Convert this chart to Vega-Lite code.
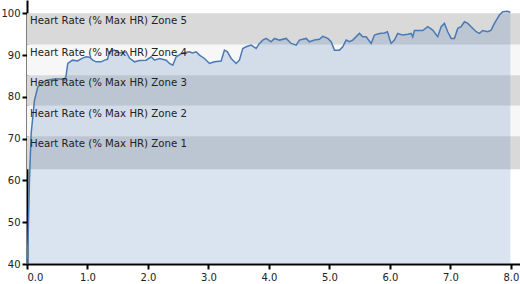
{
  "$schema": "https://vega.github.io/schema/vega-lite/v6.json",
  "width": 493,
  "height": 264,
  "autosize": {"type": "none"},
  "padding": {"left": 27, "top": 0, "right": 0, "bottom": 20},
  "background": "white",
  "config": {
    "view": {"stroke": null},
    "axis": {
      "domainColor": "#000",
      "domainWidth": 2,
      "tickColor": "#000",
      "tickWidth": 2,
      "tickSize": 5,
      "labelFont": "DejaVu Sans",
      "labelFontSize": 10,
      "labelColor": "#222",
      "grid": false,
      "title": null
    }
  },
  "datasets": {
    "zones": [
      {"zone": "Zone 5", "lo": 92.5, "hi": 100},
      {"zone": "Zone 4", "lo": 85.2, "hi": 92.5},
      {"zone": "Zone 3", "lo": 77.9, "hi": 85.2},
      {"zone": "Zone 2", "lo": 70.6, "hi": 77.9},
      {"zone": "Zone 1", "lo": 62.7, "hi": 70.6}
    ],
    "hr": [
      {"t": 0, "v": 40}, {"t": 0.017, "v": 45.7}, {"t": 0.041, "v": 60.1}, {"t": 0.069, "v": 71.3},
      {"t": 0.124, "v": 79.2}, {"t": 0.179, "v": 82.4}, {"t": 0.207, "v": 82.8}, {"t": 0.317, "v": 84.0},
      {"t": 0.455, "v": 84.3}, {"t": 0.565, "v": 84.3}, {"t": 0.62, "v": 84.0}, {"t": 0.645, "v": 85.0},
      {"t": 0.674, "v": 88.0}, {"t": 0.752, "v": 88.8}, {"t": 0.835, "v": 88.6}, {"t": 0.917, "v": 89.3},
      {"t": 0.979, "v": 89.6}, {"t": 1.033, "v": 89.5}, {"t": 1.088, "v": 88.8}, {"t": 1.144, "v": 88.4},
      {"t": 1.226, "v": 88.4}, {"t": 1.281, "v": 88.8}, {"t": 1.331, "v": 89.0}, {"t": 1.364, "v": 90.8},
      {"t": 1.446, "v": 91.2}, {"t": 1.529, "v": 90.5}, {"t": 1.64, "v": 90.8}, {"t": 1.694, "v": 89.3},
      {"t": 1.777, "v": 88.4}, {"t": 1.86, "v": 88.7}, {"t": 1.97, "v": 88.8}, {"t": 2.053, "v": 89.6},
      {"t": 2.107, "v": 88.8}, {"t": 2.19, "v": 89.2}, {"t": 2.301, "v": 88.8}, {"t": 2.355, "v": 88.0},
      {"t": 2.41, "v": 87.6}, {"t": 2.466, "v": 89.6}, {"t": 2.57, "v": 90.5}, {"t": 2.686, "v": 90.8},
      {"t": 2.736, "v": 90.5}, {"t": 2.797, "v": 90.8}, {"t": 2.851, "v": 90.0}, {"t": 2.934, "v": 89.2},
      {"t": 3.017, "v": 88.0}, {"t": 3.099, "v": 88.4}, {"t": 3.21, "v": 88.6}, {"t": 3.264, "v": 91.2},
      {"t": 3.314, "v": 90.8}, {"t": 3.375, "v": 89.2}, {"t": 3.458, "v": 88.0}, {"t": 3.512, "v": 88.8},
      {"t": 3.567, "v": 91.6}, {"t": 3.623, "v": 92.0}, {"t": 3.706, "v": 92.4}, {"t": 3.788, "v": 91.6},
      {"t": 3.843, "v": 92.8}, {"t": 3.898, "v": 93.6}, {"t": 3.954, "v": 94.0}, {"t": 4.036, "v": 93.2},
      {"t": 4.091, "v": 94.0}, {"t": 4.174, "v": 93.6}, {"t": 4.284, "v": 94.0}, {"t": 4.367, "v": 92.8},
      {"t": 4.45, "v": 92.4}, {"t": 4.504, "v": 93.6}, {"t": 4.615, "v": 94.0}, {"t": 4.669, "v": 93.2},
      {"t": 4.752, "v": 93.6}, {"t": 4.835, "v": 93.8}, {"t": 4.889, "v": 94.5}, {"t": 4.972, "v": 94.0},
      {"t": 5.028, "v": 93.2}, {"t": 5.083, "v": 91.2}, {"t": 5.165, "v": 91.2}, {"t": 5.22, "v": 92.0},
      {"t": 5.276, "v": 93.6}, {"t": 5.331, "v": 93.2}, {"t": 5.385, "v": 93.6}, {"t": 5.496, "v": 95.2},
      {"t": 5.55, "v": 94.4}, {"t": 5.607, "v": 94.4}, {"t": 5.689, "v": 92.8}, {"t": 5.744, "v": 94.8},
      {"t": 5.826, "v": 95.2}, {"t": 5.909, "v": 95.3}, {"t": 5.959, "v": 95.6}, {"t": 5.992, "v": 94.0},
      {"t": 6.02, "v": 92.8}, {"t": 6.074, "v": 93.6}, {"t": 6.129, "v": 95.2}, {"t": 6.212, "v": 94.8},
      {"t": 6.294, "v": 95.0}, {"t": 6.35, "v": 95.2}, {"t": 6.377, "v": 94.4}, {"t": 6.405, "v": 95.9},
      {"t": 6.542, "v": 95.9}, {"t": 6.625, "v": 96.8}, {"t": 6.707, "v": 96.0}, {"t": 6.79, "v": 94.4},
      {"t": 6.846, "v": 96.8}, {"t": 6.901, "v": 97.6}, {"t": 6.955, "v": 95.6}, {"t": 7.012, "v": 94.0},
      {"t": 7.066, "v": 94.0}, {"t": 7.121, "v": 96.4}, {"t": 7.177, "v": 96.8}, {"t": 7.231, "v": 98.0},
      {"t": 7.286, "v": 97.6}, {"t": 7.342, "v": 96.8}, {"t": 7.425, "v": 95.6}, {"t": 7.479, "v": 95.2},
      {"t": 7.534, "v": 95.9}, {"t": 7.617, "v": 95.6}, {"t": 7.673, "v": 96.0}, {"t": 7.727, "v": 97.6},
      {"t": 7.81, "v": 99.6}, {"t": 7.865, "v": 100.4}, {"t": 7.947, "v": 100.5}, {"t": 7.99, "v": 100.2}
    ]
  },
  "layer": [
    {
      "data": {"name": "zones"},
      "mark": {"type": "rect", "strokeWidth": 0},
      "encoding": {
        "x": {"datum": 0, "type": "quantitative", "scale": {"domain": [0, 8.15], "nice": false, "zero": false},
              "axis": {"values": [0, 1, 2, 3, 4, 5, 6, 7, 8], "format": ".1f", "labelPadding": 3}},
        "x2": {"datum": 8.15},
        "y": {"field": "lo", "type": "quantitative", "scale": {"domain": [40, 103.2], "nice": false, "zero": false},
              "axis": {"values": [40, 50, 60, 70, 80, 90, 100], "format": "d", "labelPadding": 2}},
        "y2": {"field": "hi"},
        "color": {"field": "zone", "type": "nominal", "legend": null,
                  "scale": {"domain": ["Zone 1", "Zone 2", "Zone 3", "Zone 4", "Zone 5"],
                            "range": ["#d9d9d9", "#f7f7f7", "#d9d9d9", "#f7f7f7", "#d9d9d9"]}}
      }
    },
    {
      "data": {"name": "hr"},
      "mark": {"type": "area", "color": "#4f7fbe", "opacity": 0.21, "interpolate": "linear"},
      "encoding": {
        "x": {"field": "t", "type": "quantitative"},
        "y": {"field": "v", "type": "quantitative"},
        "y2": {"datum": 40}
      }
    },
    {
      "data": {"name": "hr"},
      "mark": {"type": "line", "color": "#4a7ab4", "strokeWidth": 1.5},
      "encoding": {
        "x": {"field": "t", "type": "quantitative"},
        "y": {"field": "v", "type": "quantitative"}
      }
    },
    {
      "data": {"name": "zones"},
      "transform": [{"calculate": "'Heart Rate (% Max HR) ' + datum.zone", "as": "label"}],
      "mark": {"type": "text", "align": "left", "baseline": "top", "dx": 3, "dy": 3,
               "font": "DejaVu Sans", "fontSize": 10.2, "color": "#222"},
      "encoding": {
        "x": {"datum": 0, "type": "quantitative"},
        "y": {"field": "hi", "type": "quantitative"},
        "text": {"field": "label"}
      }
    }
  ]
}
